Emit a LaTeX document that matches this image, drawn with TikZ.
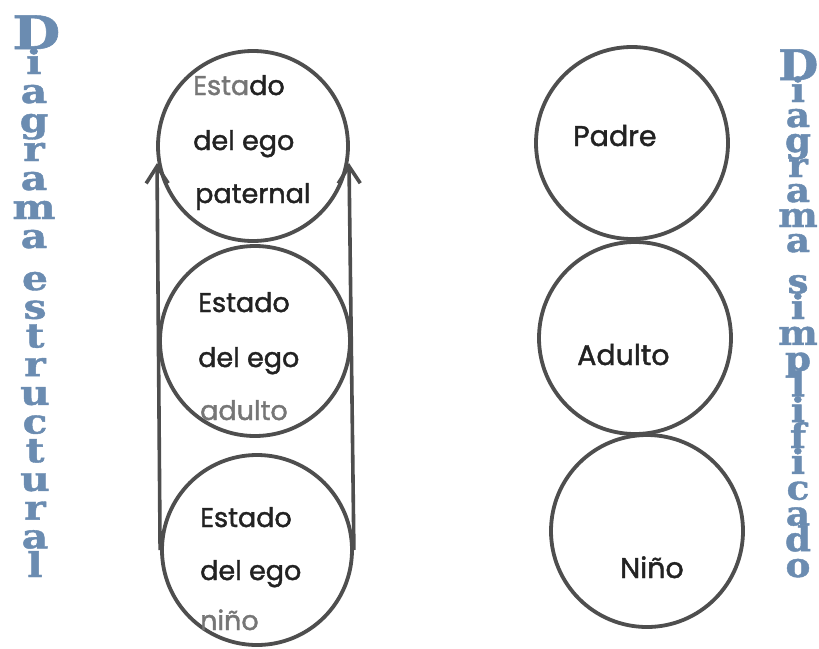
\documentclass[tikz,border=0pt]{standalone}
\usepackage{fontspec}
\setmainfont{Poppins}[FakeBold=1.5]
\newfontfamily\sidefont{DejaVu Serif}[FakeBold=1.2]
\usetikzlibrary{arrows.meta}
\definecolor{ringc}{HTML}{4E4E4E}
\definecolor{ink}{HTML}{222222}
\definecolor{faded}{HTML}{767676}
\definecolor{sideblue}{HTML}{6B8CB1}
\newcommand{\vstack}[3]{% xscale, pitch, content
  \scalebox{#1}[1]{\vbox{\hsize=36pt\parindent=0pt\centering
    \baselineskip=#2\lineskiplimit=-100pt\lineskip=0pt #3}}}
\begin{document}
\begin{tikzpicture}[x=1pt,y=-1pt,
  ring/.style={circle, draw=ringc, line width=3.8pt, minimum size=190pt, inner sep=0pt},
  lbl/.style={anchor=base west, inner sep=0pt, font=\fontsize{27}{32}\selectfont, text=ink},
  big/.style={anchor=base west, inner sep=0pt, font=\fontsize{28.5}{34}\selectfont, text=ink},
  sideword/.style={anchor=base, inner sep=0pt, text=sideblue, font=\sidefont\bfseries\fontsize{34}{29}\selectfont},
  uparrow/.style={draw=ringc, line width=3.6pt, -{Straight Barb[length=17pt,width=22pt]}}
]
\useasboundingbox (0,0) rectangle (819,648);
\fill[white] (0,0) rectangle (819,648);

% left column circles
\node[ring] (c1) at (253,146) {};
\node[ring] (c2) at (255,341) {};
\node[ring] (c3) at (257,550) {};
% right column circles
\node[ring, minimum size=192pt] (p) at (632,143) {};
\node[ring, minimum size=192pt] (a) at (635,338) {};
\node[ring, minimum size=192pt] (n) at (647,531) {};

% arrows
\coordinate (tl) at (157,163);
\coordinate (tr) at (349,163);
\draw[uparrow] (c3.west) -- (tl);
\draw[uparrow] (c3.east) -- (tr);

% left texts
\node[lbl] (t1a) at (193,95) {{\color{faded}Esta}do};
\node[lbl] (t1b) at (193,150) {del ego};
\node[lbl] (t1c) at (195,203) {paternal};
\node[lbl] (t2a) at (198,312) {Estado};
\node[lbl] (t2b) at (198,367) {del ego};
\node[lbl, text=faded] (t2c) at (200,420) {adulto};
\node[lbl] (t3a) at (200,527) {Estado};
\node[lbl] (t3b) at (200,580) {del ego};
\node[lbl, text=faded] (t3c) at (200,630) {niño};

% right texts
\node[big] (tp) at (573,146) {Padre};
\node[big] (ta) at (577,365) {Adulto};
\node[big] (tn) at (620,578) {Niño};

% left side vertical text
\node[sideword] (ld) at (34,248) {\vstack{1.2}{29pt}{%
  {\fontsize{46}{29}\selectfont D\par}\vskip-4pt
  i\par a\par g\par r\par a\par m\par a}};
\node[sideword] (le) at (35,577) {\vstack{1.2}{28.7pt}{%
  e\par s\par t\par r\par u\par c\par t\par u\par r\par a\par l}};

% right side vertical text
\node[sideword] (rd) at (798,252) {\vstack{1.1}{25pt}{%
  {\fontsize{42}{25}\selectfont D\par}\vskip-3pt
  i\par a\par g\par r\par a\par m\par a}};
\node[sideword] (rs) at (798,577) {\vstack{1.1}{25.8pt}{%
  s\par i\par m\par p\par l\par i\par f\par i\par c\par a\par d\par o}};
\end{tikzpicture}
\end{document}
